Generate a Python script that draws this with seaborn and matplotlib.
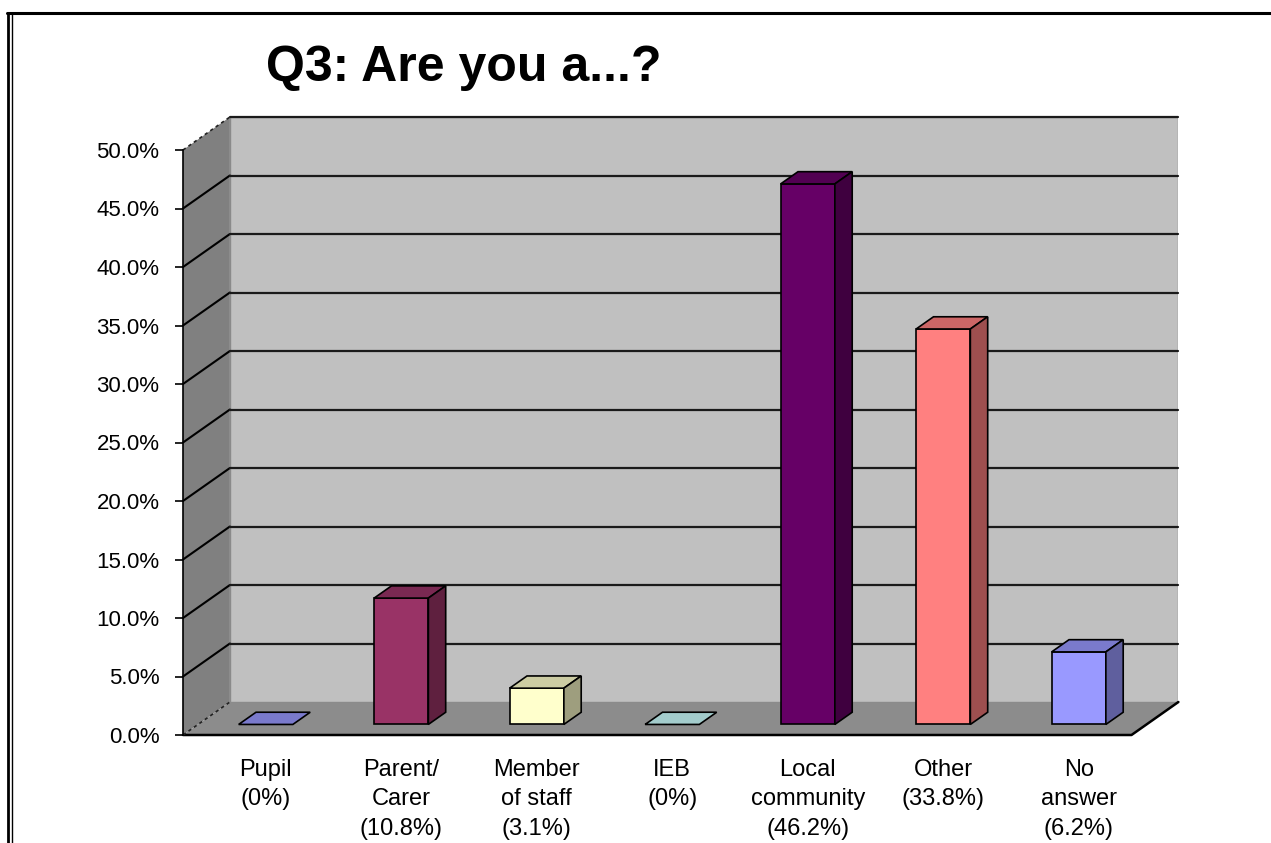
import matplotlib
matplotlib.use("Agg")
import matplotlib.pyplot as plt
import seaborn as sns
from matplotlib.patches import Polygon
from matplotlib.lines import Line2D
from matplotlib.colors import to_rgb

# %%
categories = [
    "Pupil\n(0%)",
    "Parent/\nCarer\n(10.8%)",
    "Member\nof staff\n(3.1%)",
    "IEB\n(0%)",
    "Local\ncommunity\n(46.2%)",
    "Other\n(33.8%)",
    "No\nanswer\n(6.2%)",
]
values = [0.0, 10.8, 3.1, 0.0, 46.2, 33.8, 6.2]
bar_colors = ["#9999FF", "#993366", "#FFFFCC", "#CCFFFF", "#660066", "#FF8080", "#9999FF"]
y_ticks = list(range(0, 51, 5))
title = "Q3: Are you a...?"

# fake 3d: full floor depth in data units, bars sit a third of the way back
DX, DY = 0.346, 2.82
BAR_START, BAR_DEPTH = 0.32, 0.37
YMAX = 50


def shade(c, f):
    return tuple(v * f for v in to_rgb(c))


# %%
sns.set_style("white")
plt.rcParams["font.family"] = ["Liberation Sans", "DejaVu Sans"]

W, H = 1271, 843
fig = plt.figure(figsize=(W / 100, H / 100), dpi=100)
n = len(categories)
ax_w = (n + DX) * 135.5
ax_h = (YMAX + DY) * 11.7
ax = fig.add_axes([183 / W, (H - 735) / H, ax_w / W, ax_h / H])

df = {"cat": categories, "val": values}
sns.barplot(data=df, x="cat", y="val", hue="cat", palette=bar_colors, legend=False,
            saturation=1, width=0.4, edgecolor="black", linewidth=1.2, ax=ax, zorder=4)
ax.set_xlim(-0.5, n - 0.5 + DX)
ax.set_ylim(0, YMAX + DY)

x0, x1 = -0.5, n - 0.5
# walls and floor
ax.add_patch(Polygon([(x0 + DX, DY), (x1 + DX, DY), (x1 + DX, YMAX + DY), (x0 + DX, YMAX + DY)],
                     closed=True, facecolor="#c0c0c0", edgecolor="#8a8a8a", lw=1, zorder=1))
ax.add_patch(Polygon([(x0, 0), (x0 + DX, DY), (x0 + DX, YMAX + DY), (x0, YMAX)],
                     closed=True, facecolor="#808080", edgecolor="none", zorder=1))
ax.add_patch(Polygon([(x0, 0), (x1, 0), (x1 + DX, DY), (x0 + DX, DY)],
                     closed=True, facecolor="#8c8c8c", edgecolor="none", zorder=1.2))
ax.plot([x0, x1, x1 + DX], [0, 0, DY], color="black", lw=1.8, zorder=1.5, clip_on=False)

# gridlines on back and side walls
for t in y_ticks:
    if t in (0, YMAX):
        ax.plot([x0, x0 + DX], [t, t + DY], color="#222222", lw=1.2, ls=(0, (2, 2)),
                zorder=1.5, clip_on=False)
    else:
        ax.plot([x0, x0 + DX], [t, t + DY], color="black", lw=1.5, zorder=1.5, clip_on=False)
    if t > 0:
        ax.plot([x0 + DX, x1 + DX], [t + DY, t + DY], color="#1a1a1a", lw=1.6, zorder=1.5,
                clip_on=False)

# push bars back and add tops and sides
ox, oy = DX * BAR_START, DY * BAR_START
bx, by = DX * BAR_DEPTH, DY * BAR_DEPTH
centers = []
for cont, col in zip(ax.containers, bar_colors):
    for bar in cont:
        bar.set_x(bar.get_x() + ox)
        bar.set_y(bar.get_y() + oy)
        xl, w = bar.get_x(), bar.get_width()
        yb, h = bar.get_y(), bar.get_height()
        yt = yb + h
        centers.append(xl + w / 2)
        ax.add_patch(Polygon([(xl, yt), (xl + w, yt), (xl + w + bx, yt + by), (xl + bx, yt + by)],
                             closed=True, facecolor=shade(col, 0.8), edgecolor="black",
                             lw=1.2, zorder=4))
        if h > 0:
            ax.add_patch(Polygon([(xl + w, yb), (xl + w + bx, yb + by), (xl + w + bx, yt + by),
                                  (xl + w, yt)], closed=True, facecolor=shade(col, 0.62),
                                 edgecolor="black", lw=1.2, zorder=4))

# axes and ticks
for s in ["top", "right", "bottom"]:
    ax.spines[s].set_visible(False)
ax.spines["left"].set_visible(True)
ax.spines["left"].set_bounds(0, YMAX)
ax.spines["left"].set_color("black")
ax.spines["left"].set_linewidth(1.2)
ax.spines["left"].set_zorder(2)
ax.set_yticks(y_ticks, [f"{t:.1f}%" for t in y_ticks])
ax.set_xticks(centers, categories)
ax.tick_params(axis="y", left=True, length=6, width=1.2, direction="out", pad=11,
               labelsize=16, colors="black")
ax.tick_params(axis="x", length=0, pad=17, labelsize=17, colors="black")
for lab in ax.get_xticklabels():
    lab.set_linespacing(1.45)
ax.set_xlabel("")
ax.set_ylabel("")
ax.grid(False)
ax.patch.set_alpha(0)

fig.text(464 / W, 1 - 68 / H, title, ha="center", va="center", fontsize=36,
         fontweight="bold", color="black")

# page frame
fig.add_artist(Line2D([7 / W, 1], [1 - 13 / H] * 2, color="black", lw=2.2, transform=fig.transFigure))
fig.add_artist(Line2D([8 / W] * 2, [0, 1 - 13 / H], color="black", lw=2.0, transform=fig.transFigure))
fig.add_artist(Line2D([11.5 / W] * 2, [0, 1 - 13 / H], color="black", lw=1.0, transform=fig.transFigure))

fig.savefig("out.png", dpi=100)
